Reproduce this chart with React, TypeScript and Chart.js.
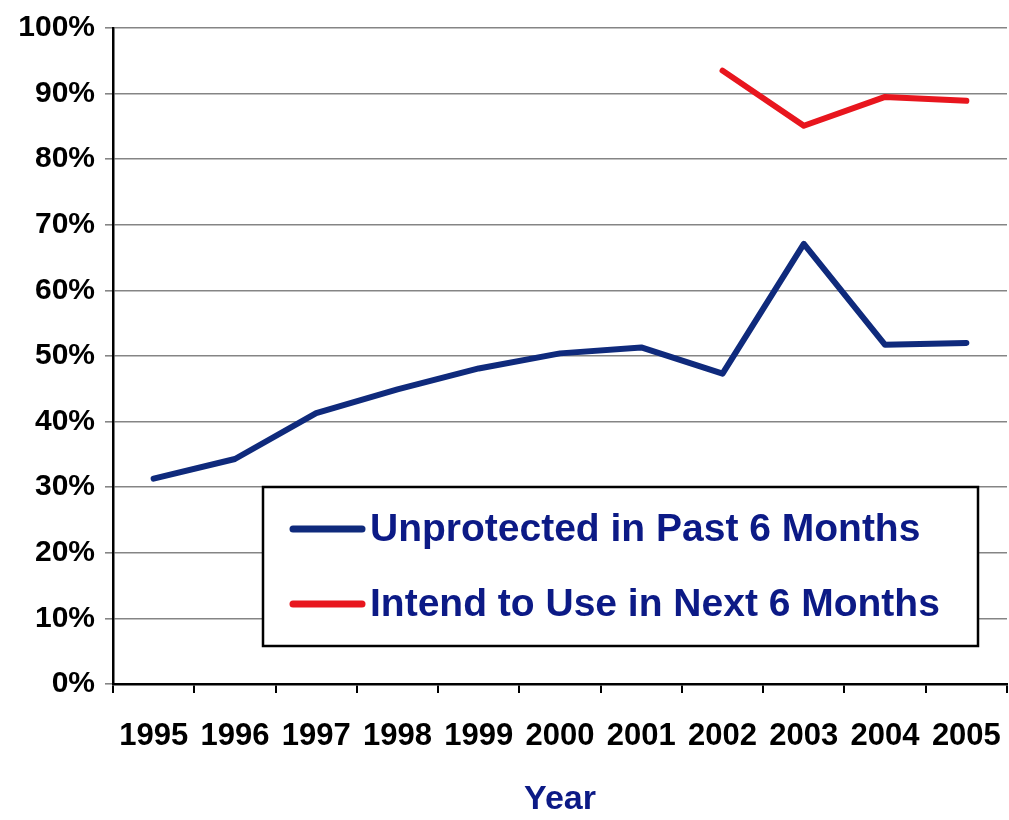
import React, { useEffect, useRef } from "react";
import { Chart, registerables } from "chart.js";

Chart.register(...registerables);

const years = ["1995", "1996", "1997", "1998", "1999", "2000", "2001", "2002", "2003", "2004", "2005"];
const unprotected = [31.3, 34.3, 41.3, 44.9, 48.1, 50.4, 51.3, 47.3, 67.1, 51.7, 52.0];
const intendToUse = [null, null, null, null, null, null, null, 93.5, 85.1, 89.5, 88.9];
const seriesLabels = ["Unprotected in Past 6 Months", "Intend to Use in Next 6 Months"];
const yTicks = [0, 10, 20, 30, 40, 50, 60, 70, 80, 90, 100];
const axisTitle = "Year";

const BLUE = "#0f2a7c";
const RED = "#e8161e";
const NAVY_TEXT = "#0c1a86";
const FONT = "'Liberation Sans', Arial, sans-serif";

const boxLegend = {
  id: "boxLegend",
  afterDraw(chart: any, _args: any, opts: any) {
    const ctx = chart.ctx;
    const { x, y, w, h, rowGap, lineLen, textGap, padLeft, font, color } = opts;
    ctx.save();
    ctx.fillStyle = "#ffffff";
    ctx.fillRect(x, y, w, h);
    ctx.strokeStyle = "#000000";
    ctx.lineWidth = 2.5;
    ctx.strokeRect(x, y, w, h);
    const sets = chart.data.datasets;
    const firstY = y + h / 2 - rowGap / 2;
    sets.forEach((ds: any, i: number) => {
      const cy = firstY + i * rowGap;
      ctx.beginPath();
      ctx.lineCap = "round";
      ctx.lineWidth = 7;
      ctx.strokeStyle = ds.borderColor;
      ctx.moveTo(x + padLeft, cy);
      ctx.lineTo(x + padLeft + lineLen, cy);
      ctx.stroke();
      ctx.fillStyle = color;
      ctx.font = font;
      ctx.textBaseline = "middle";
      ctx.textAlign = "left";
      ctx.fillText(ds.label, x + padLeft + lineLen + textGap, cy + 1);
    });
    ctx.restore();
  },
};

export default function App() {
  const ref = useRef<HTMLCanvasElement | null>(null);

  useEffect(() => {
    if (!ref.current) return;
    const chart = new Chart(ref.current, {
      type: "line",
      data: {
        labels: years,
        datasets: [
          {
            label: seriesLabels[0],
            data: unprotected,
            borderColor: BLUE,
            backgroundColor: BLUE,
            borderWidth: 6,
            pointRadius: 0,
            borderJoinStyle: "round",
            borderCapStyle: "round",
            tension: 0,
          },
          {
            label: seriesLabels[1],
            data: intendToUse,
            borderColor: RED,
            backgroundColor: RED,
            borderWidth: 6,
            pointRadius: 0,
            borderJoinStyle: "round",
            borderCapStyle: "round",
            spanGaps: false,
            tension: 0,
          },
        ],
      },
      options: {
        animation: false,
        responsive: false,
        maintainAspectRatio: false,
        layout: { padding: { top: 25, right: 2, left: 0, bottom: 0 } },
        plugins: {
          legend: { display: false },
          tooltip: { enabled: false },
          boxLegend: {
            x: 263,
            y: 487,
            w: 715,
            h: 159,
            rowGap: 75,
            lineLen: 69,
            textGap: 8,
            padLeft: 30,
            font: `bold 39px ${FONT}`,
            color: NAVY_TEXT,
          },
        } as any,
        scales: {
          x: {
            type: "category",
            offset: true,
            grid: {
              offset: true,
              drawOnChartArea: false,
              drawTicks: true,
              tickLength: 9,
              color: "#000000",
              lineWidth: 2,
            },
            border: { display: true, color: "#000000", width: 2.5 },
            ticks: {
              color: "#000000",
              font: { family: FONT, size: 31, weight: "bold" },
              padding: 25,
              maxRotation: 0,
              autoSkip: false,
            },
            title: {
              display: true,
              text: axisTitle,
              color: NAVY_TEXT,
              font: { family: FONT, size: 34, weight: "bold" },
              padding: { top: 0, bottom: 0 },
            },
            afterFit: (s: any) => {
              s.height = 136;
              s.paddingLeft = 0;
              s.paddingRight = 0;
            },
          },
          y: {
            min: 0,
            max: 100,
            afterBuildTicks: (s: any) => {
              s.ticks = yTicks.map((v) => ({ value: v }));
            },
            grid: {
              color: "#858585",
              lineWidth: 1.6,
              tickLength: 8,
              drawTicks: true,
            },
            border: { display: true, color: "#000000", width: 2.5 },
            ticks: {
              color: "#000000",
              font: { family: FONT, size: 30, weight: "bold" },
              padding: 10,
              callback: (v: any) => `${v}%`,
            },
            afterFit: (s: any) => {
              s.width = 113;
            },
          },
        },
      },
      plugins: [boxLegend],
    });
    return () => chart.destroy();
  }, []);

  return (
    <div style={{ position: "absolute", left: 0, top: 0, width: 1009, height: 820, background: "#ffffff" }}>
      <canvas ref={ref} width={1009} height={820} style={{ width: 1009, height: 820, display: "block" }} />
    </div>
  );
}
